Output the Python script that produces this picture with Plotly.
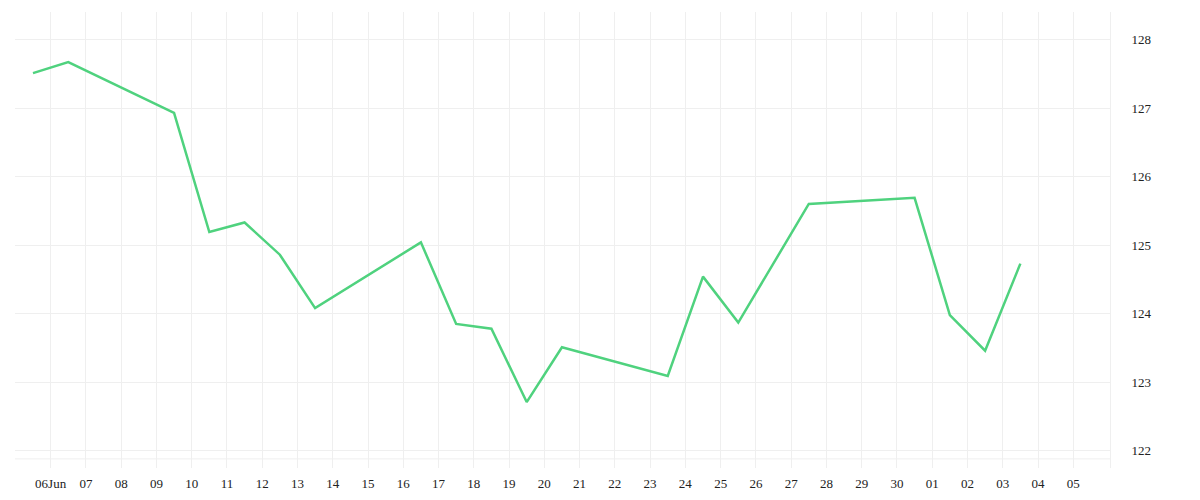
import plotly.graph_objects as go
import pandas as pd

# daily closes, stamped at midday
dates = ["2025-06-05", "2025-06-06", "2025-06-09", "2025-06-10", "2025-06-11",
         "2025-06-12", "2025-06-13", "2025-06-16", "2025-06-17", "2025-06-18",
         "2025-06-19", "2025-06-20", "2025-06-23", "2025-06-24", "2025-06-25",
         "2025-06-27", "2025-06-30", "2025-07-01", "2025-07-02", "2025-07-03"]
prices = [127.51, 127.67, 126.93, 125.19, 125.33, 124.86, 124.08, 125.04, 123.85, 123.78,
          122.71, 123.51, 123.09, 124.54, 123.87, 125.60, 125.69, 123.98, 123.46, 124.73]

tick_days = pd.date_range("2025-06-06", "2025-07-05", freq="D")
tick_text = ["06Jun"] + [d.strftime("%d") for d in tick_days[1:]]

x = pd.to_datetime(dates) + pd.Timedelta(hours=12)

fig = go.Figure()
fig.add_trace(go.Scatter(x=x, y=prices, mode="lines",
                         line=dict(color="#4fd27e", width=2.5), hoverinfo="skip"))

grid = "#efefef"
fig.update_layout(
    width=1192, height=492,
    margin=dict(l=7, r=90, t=4, b=32),
    plot_bgcolor="white", paper_bgcolor="white",
    showlegend=False,
    font=dict(family="Liberation Serif", size=13, color="#222222"),
    xaxis=dict(range=["2025-06-04 23:45", "2025-07-06 01:00"],
               tickvals=[pd.Timestamp("2025-06-05")] + list(tick_days), ticktext=[""] + tick_text,
               showgrid=True, gridcolor=grid, gridwidth=1, zeroline=False,
               ticks="", ticklabelstandoff=6, showline=False),
    yaxis=dict(side="right", range=[121.748, 128.401], dtick=1,
               showgrid=True, gridcolor=grid, gridwidth=1, zeroline=False,
               ticks="", ticklabelstandoff=18, showline=True, linecolor=grid, linewidth=1),
)
# thin rule just under the lowest grid line
fig.add_shape(type="line", xref="paper", yref="paper", x0=0, x1=1, y0=0.02, y1=0.02,
              line=dict(color=grid, width=1))

fig.write_html("out.html")
